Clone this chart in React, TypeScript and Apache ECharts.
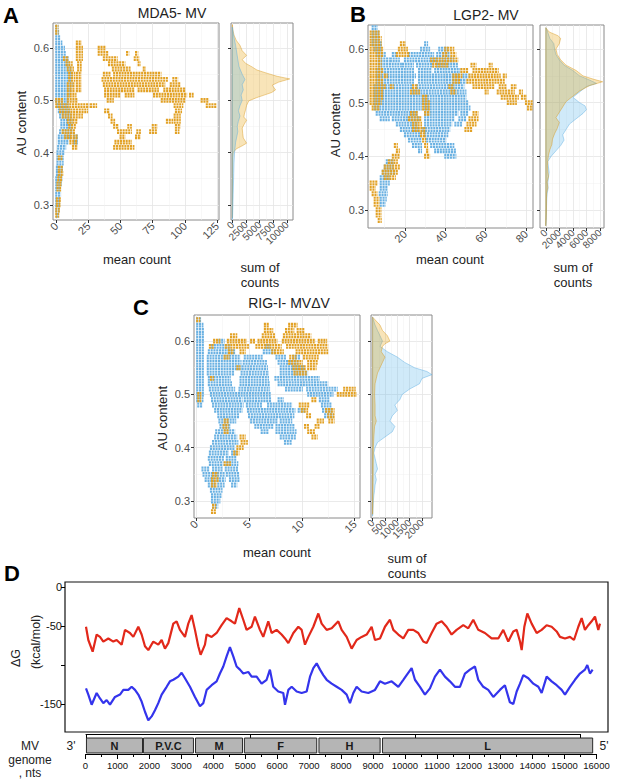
import React, { useEffect, useRef } from 'react';
import * as echarts from 'echarts';

const FONT = '"Liberation Sans", Arial, Helvetica, sans-serif';
const ORANGE = '#E2A124';
const BLUE = '#6AB1E2';
const ORANGE_FILL = 'rgba(230,159,0,0.28)';
const BLUE_FILL = 'rgba(86,180,233,0.28)';
const ORANGE_EDGE = 'rgba(215,150,20,0.55)';
const BLUE_EDGE = 'rgba(86,170,225,0.55)';

// ---------- tick labels ----------
const auTicks = [0.3, 0.4, 0.5, 0.6];
const auMinor = [0.35, 0.45, 0.55];
const aCountTicks = [0, 25, 50, 75, 100, 125];
const aCountMinor = [12.5, 37.5, 62.5, 87.5, 112.5];
const bCountTicks = [20, 40, 60, 80];
const bCountMinor = [10, 30, 50, 70];
const cCountTicks = [0, 5, 10, 15];
const cCountMinor = [2.5, 7.5, 12.5];
const aSumTicks = [0, 2500, 5000, 7500, 10000];
const aSumMinor = [1250, 3750, 6250, 8750];
const bSumTicks = [0, 2000, 4000, 6000, 8000];
const bSumMinor = [1000, 3000, 5000, 7000];
const cSumTicks = [0, 500, 1000, 1500, 2000];
const cSumMinor = [250, 750, 1250, 1750];
const dgTicks = [0, -50, -100, -150];
const dgLabels = [0, -50, -150];
const bracketTicks = [0, 5000, 10000, 15000];

// ---------- scatter rows: [AU content, mean count from, mean count to] ----------
const aBlueSeg = [
  [0.64, 0, 1], [0.63, 0, 1.5], [0.62, 0, 2.5], [0.61, 0, 4], [0.6, 0, 6], [0.59, 0, 7], [0.58, 0, 9],
  [0.57, 0, 10], [0.56, 0, 11], [0.55, 0, 12], [0.54, 0, 11], [0.53, 0, 12], [0.52, 0, 11], [0.51, 0, 10],
  [0.5, 0, 9], [0.49, 1, 9], [0.48, 2, 10], [0.47, 3, 11], [0.46, 4, 12], [0.45, 4, 12], [0.44, 3, 12],
  [0.43, 2, 11], [0.43, 14, 16], [0.42, 2, 9], [0.42, 14, 16], [0.41, 1.5, 7], [0.4, 1, 6], [0.39, 1, 5],
  [0.38, 1, 5], [0.37, 0.5, 4.5], [0.36, 0.5, 4], [0.35, 0, 4], [0.34, 0, 3.5], [0.33, 0, 3], [0.32, 0, 3],
  [0.31, 0, 2.5], [0.3, 0, 2.5], [0.29, 0, 2], [0.28, 0.5, 1.5],
];
const aOrangeSeg = [
  [0.64, 0, 1], [0.63, 0, 1], [0.61, 16, 19],
  [0.6, 16, 20], [0.6, 33, 38],
  [0.59, 16, 20], [0.59, 33, 40], [0.59, 55, 56], [0.59, 62, 63],
  [0.58, 6, 9], [0.58, 16, 20], [0.58, 37, 47], [0.58, 61, 64],
  [0.57, 8, 12], [0.57, 17, 19], [0.57, 41, 53], [0.57, 64, 65],
  [0.56, 9, 13], [0.56, 17, 19], [0.56, 44, 57], [0.56, 68, 69],
  [0.55, 10, 14], [0.55, 16, 19], [0.55, 37, 42], [0.55, 45, 81],
  [0.54, 10, 14], [0.54, 16, 19], [0.54, 36, 86], [0.54, 91, 94],
  [0.53, 9, 14], [0.53, 16, 19], [0.53, 37, 84], [0.53, 89, 96],
  [0.52, 9, 14], [0.52, 16, 19], [0.52, 38, 60], [0.52, 64, 79], [0.52, 84, 100],
  [0.51, 9, 15], [0.51, 38, 49], [0.51, 54, 60], [0.51, 76, 101], [0.51, 104, 106],
  [0.5, 0, 5], [0.5, 9, 16], [0.5, 40, 44], [0.5, 82, 100], [0.5, 113, 118],
  [0.49, 0, 25], [0.49, 27, 31], [0.49, 92, 98], [0.49, 117, 124],
  [0.48, 3, 24], [0.48, 38, 41], [0.48, 93, 97],
  [0.47, 5, 20], [0.47, 41, 43], [0.47, 92, 96],
  [0.46, 9, 16], [0.46, 43, 45], [0.46, 86, 90], [0.46, 92, 96],
  [0.45, 10, 15], [0.45, 45, 48], [0.45, 56, 58], [0.45, 75, 78], [0.45, 93, 96],
  [0.44, 5, 14], [0.44, 48, 58], [0.44, 63, 65], [0.44, 73, 78], [0.44, 93, 95],
  [0.43, 7, 16], [0.43, 50, 53], [0.43, 62, 65],
  [0.42, 11, 16], [0.42, 46, 58],
  [0.41, 13, 16], [0.41, 45, 60],
  [0.39, 2, 4], [0.37, 2, 4.5], [0.36, 2, 5], [0.35, 1.5, 4], [0.34, 1, 3.5], [0.33, 1, 3],
  [0.31, 0.5, 3], [0.3, 0.5, 2.5], [0.29, 0, 2], [0.28, 0, 1.5],
];
const bBlueSeg = [
  [0.64, 4, 6], [0.63, 4, 7], [0.62, 4, 7], [0.61, 4, 8], [0.61, 30, 31],
  [0.6, 5, 8], [0.6, 28, 32], [0.6, 37, 41],
  [0.59, 6, 10], [0.59, 14, 16], [0.59, 22, 34], [0.59, 36, 42],
  [0.58, 7, 12], [0.58, 13, 17], [0.58, 20, 35], [0.58, 36, 44],
  [0.57, 7, 18], [0.57, 19, 24], [0.57, 26, 34], [0.57, 36, 46],
  [0.56, 6, 24], [0.56, 27, 33], [0.56, 35, 47],
  [0.55, 6, 25], [0.55, 27, 47], [0.55, 49, 51],
  [0.54, 6, 24], [0.54, 27, 50],
  [0.53, 5, 24], [0.53, 26, 49],
  [0.52, 5, 22], [0.52, 24, 50],
  [0.51, 5, 50], [0.5, 5, 51],
  [0.49, 5, 28], [0.49, 30, 52],
  [0.48, 6, 16], [0.48, 17, 26], [0.48, 30, 46], [0.48, 48, 51],
  [0.47, 8, 12], [0.47, 14, 27], [0.47, 30, 44], [0.47, 47, 50],
  [0.46, 16, 26], [0.46, 30, 43], [0.46, 45, 48],
  [0.45, 18, 27], [0.45, 29, 42],
  [0.44, 20, 28], [0.44, 30, 41],
  [0.43, 22, 28], [0.43, 31, 40],
  [0.42, 24, 28], [0.42, 33, 44],
  [0.41, 27, 28], [0.41, 35, 45],
  [0.4, 40, 45],
  [0.39, 11, 14], [0.38, 10, 14], [0.37, 9, 15], [0.36, 8, 12], [0.35, 8, 12], [0.34, 8, 11],
  [0.33, 7.5, 11], [0.32, 8, 10.5], [0.31, 8, 10],
];
const bOrangeSeg = [
  [0.63, 3, 7], [0.62, 3, 8], [0.61, 3, 8], [0.61, 18, 20],
  [0.6, 3, 9], [0.6, 17, 21], [0.6, 40, 44],
  [0.59, 3, 9], [0.59, 16, 22], [0.59, 39, 41], [0.59, 43, 45],
  [0.58, 3, 8], [0.58, 33, 46],
  [0.57, 3, 8], [0.57, 34, 41], [0.57, 53, 55], [0.57, 62, 63],
  [0.56, 3, 9], [0.56, 48, 51], [0.56, 54, 66],
  [0.55, 3, 8], [0.55, 10, 11], [0.55, 44, 48], [0.55, 52, 67], [0.55, 69, 70],
  [0.54, 3, 9], [0.54, 44, 47], [0.54, 51, 69],
  [0.53, 3, 10], [0.53, 13, 14], [0.53, 24, 26], [0.53, 42, 44], [0.53, 54, 64], [0.53, 67, 70], [0.53, 73, 75],
  [0.52, 3, 9], [0.52, 23, 27], [0.52, 43, 45], [0.52, 60, 61], [0.52, 66, 74], [0.52, 77, 78],
  [0.51, 3, 9], [0.51, 29, 31], [0.51, 68, 76], [0.51, 78, 80],
  [0.5, 3, 8], [0.5, 29, 32], [0.5, 71, 75], [0.5, 80, 83],
  [0.49, 4, 7], [0.49, 29, 32], [0.49, 81, 83],
  [0.48, 23, 26], [0.48, 30, 32], [0.48, 54, 56],
  [0.47, 22, 28], [0.47, 52, 56],
  [0.46, 24, 28], [0.46, 51, 55],
  [0.45, 24, 30], [0.45, 50, 53],
  [0.44, 28, 30], [0.43, 29, 30],
  [0.42, 15, 16], [0.42, 30, 31],
  [0.41, 16, 17], [0.41, 31, 31.5],
  [0.4, 14, 17], [0.4, 30, 32],
  [0.39, 12, 16], [0.38, 10, 17], [0.37, 9, 16], [0.36, 10, 15],
  [0.35, 3, 6], [0.34, 3, 5], [0.33, 4, 6], [0.32, 5, 7], [0.31, 5, 7], [0.3, 6, 8], [0.29, 6, 8], [0.28, 7, 8],
];
const cBlueSeg = [
  [0.64, 0.1, 0.4], [0.63, 0.1, 0.6], [0.62, 0.1, 0.7], [0.61, 0.1, 0.7],
  [0.6, 0.1, 0.7], [0.6, 2.2, 2.6],
  [0.59, 0.1, 0.7], [0.59, 1.5, 3.2], [0.59, 6.6, 7],
  [0.58, 0.1, 0.7], [0.58, 1.2, 3.6], [0.58, 6.4, 7.4],
  [0.57, 0.1, 0.7], [0.57, 1.1, 4.1], [0.57, 4.6, 6.2], [0.57, 7.6, 8.4], [0.57, 9.2, 9.8],
  [0.56, 0.1, 0.7], [0.56, 1.1, 4.2], [0.56, 4.5, 6.6], [0.56, 7.8, 9.6],
  [0.55, 0.1, 0.7], [0.55, 1.1, 4.2], [0.55, 4.4, 6.7], [0.55, 8.0, 10.2],
  [0.54, 0.1, 0.7], [0.54, 1.1, 3.5], [0.54, 4.3, 6.8], [0.54, 8.0, 10.5],
  [0.53, 0.1, 0.7], [0.53, 1.2, 3.2], [0.53, 4.2, 6.8], [0.53, 7.5, 11.6],
  [0.52, 0.1, 0.7], [0.52, 1.2, 3.3], [0.52, 4.2, 6.9], [0.52, 7.8, 12.4],
  [0.51, 0.1, 0.7], [0.51, 1.3, 3.6], [0.51, 4.1, 6.9], [0.51, 8.5, 10], [0.51, 10.5, 13.3],
  [0.5, 0.1, 0.7], [0.5, 1.4, 4.1], [0.5, 4.3, 7.0], [0.5, 10.6, 12.9],
  [0.49, 0.1, 0.6], [0.49, 1.5, 4.3], [0.49, 4.6, 7.0], [0.49, 7.8, 8.2], [0.49, 11.7, 12.5],
  [0.48, 0.2, 0.5], [0.48, 1.6, 4.4], [0.48, 4.8, 6.2], [0.48, 6.8, 9.0], [0.48, 11.9, 12.7],
  [0.47, 1.8, 4.3], [0.47, 4.9, 9.3], [0.47, 9.7, 10.2], [0.47, 12.0, 12.8],
  [0.46, 2.1, 4.0], [0.46, 5.0, 9.2], [0.46, 12.2, 12.9],
  [0.45, 2.2, 3.7], [0.45, 5.2, 7.6], [0.45, 8.0, 9.0],
  [0.44, 2.3, 3.2], [0.44, 5.6, 7.2], [0.44, 7.6, 9.2],
  [0.43, 1.9, 3.6], [0.43, 6.2, 6.8], [0.43, 7.6, 9.4],
  [0.42, 1.8, 3.8], [0.42, 8.0, 9.4],
  [0.41, 1.6, 3.9], [0.41, 8.4, 9.0],
  [0.4, 1.4, 3.6],
  [0.39, 1.3, 3.0], [0.39, 3.4, 3.8],
  [0.38, 1.2, 2.6], [0.38, 2.9, 3.7],
  [0.37, 1.3, 2.5], [0.37, 2.9, 3.9],
  [0.36, 0.6, 1.2], [0.36, 1.6, 2.4], [0.36, 2.8, 3.9],
  [0.35, 0.7, 1.5], [0.35, 1.8, 2.6], [0.35, 2.9, 4.0],
  [0.34, 0.9, 1.6], [0.34, 2.0, 2.7], [0.34, 3.2, 4.0],
  [0.33, 1.2, 1.8], [0.33, 2.1, 2.6], [0.33, 3.4, 3.8],
  [0.32, 1.4, 2.4], [0.31, 1.5, 2.3], [0.3, 1.5, 2.2], [0.29, 1.6, 2.0],
];
const cOrangeSeg = [
  [0.64, 0.1, 0.3],
  [0.63, 6.5, 6.8], [0.63, 8.8, 9.5],
  [0.62, 6.5, 7.2], [0.62, 8.5, 9.2], [0.62, 9.6, 10.2],
  [0.61, 3.3, 3.8], [0.61, 6.3, 7.4], [0.61, 8.3, 10.8],
  [0.6, 1.7, 2.2], [0.6, 3.0, 4.7], [0.6, 5.2, 5.5], [0.6, 5.9, 7.6], [0.6, 8.2, 11.2], [0.6, 11.6, 12.3],
  [0.59, 1.3, 1.6], [0.59, 2.8, 4.9], [0.59, 5.7, 8.0], [0.59, 8.6, 12.4],
  [0.58, 3.1, 3.5], [0.58, 4.2, 4.6], [0.58, 7.2, 8.2], [0.58, 9.5, 12.4],
  [0.57, 2.7, 3.1], [0.57, 8.9, 9.4], [0.57, 10.2, 11.5],
  [0.56, 8.8, 10.0], [0.56, 10.6, 11.4],
  [0.55, 3.9, 4.1], [0.55, 9.2, 10.3], [0.55, 10.6, 11.3],
  [0.54, 9.3, 10.4], [0.53, 1.4, 1.6],
  [0.51, 14.0, 15.0],
  [0.5, 0.2, 0.4], [0.5, 13.4, 15.1],
  [0.49, 0.2, 0.4], [0.49, 11.0, 11.3],
  [0.48, 9.8, 10.6],
  [0.47, 10.0, 10.5], [0.47, 12.3, 13.0],
  [0.46, 10.5, 10.8], [0.46, 12.5, 13.0],
  [0.45, 2.7, 3.0], [0.45, 11.5, 12.0], [0.45, 12.6, 13.0],
  [0.44, 2.6, 3.0], [0.44, 10.3, 10.6], [0.44, 11.3, 11.6],
  [0.43, 2.7, 3.0], [0.43, 10.6, 11.2],
  [0.42, 4.2, 4.6], [0.42, 11.0, 11.4],
  [0.41, 4.3, 4.8], [0.4, 3.9, 4.4], [0.39, 3.6, 4.0], [0.37, 2.7, 3.2],
  [0.35, 1.6, 2.0], [0.34, 1.5, 2.1], [0.33, 1.5, 1.9], [0.29, 1.6, 1.8], [0.28, 1.5, 1.8],
];

// ---------- marginal densities: [sum of counts, AU content] ----------
const aOrangeDens = [
  [0, 0.645], [100, 0.635], [300, 0.625], [700, 0.615], [1400, 0.605], [1800, 0.595], [2600, 0.586],
  [1800, 0.578], [2400, 0.571], [3600, 0.564], [4500, 0.558], [6300, 0.552], [8200, 0.546], [10500, 0.541],
  [8500, 0.535], [7300, 0.529], [7900, 0.52], [7200, 0.515], [5800, 0.51], [4400, 0.505], [3000, 0.499],
  [2600, 0.49], [2400, 0.481], [2200, 0.474], [2100, 0.468], [2600, 0.462], [2200, 0.455], [1800, 0.447],
  [1900, 0.436], [2000, 0.428], [2600, 0.418], [1800, 0.413], [700, 0.407], [150, 0.4], [60, 0.39],
  [40, 0.36], [20, 0.32], [10, 0.29], [0, 0.275],
];
const aBlueDens = [
  [0, 0.64], [200, 0.625], [600, 0.605], [900, 0.585], [1200, 0.565], [1800, 0.55], [2300, 0.54],
  [1800, 0.53], [2000, 0.52], [1600, 0.51], [1800, 0.5], [1400, 0.49], [1100, 0.48], [1400, 0.47],
  [1100, 0.46], [900, 0.45], [1000, 0.44], [800, 0.43], [600, 0.42], [500, 0.41], [400, 0.4],
  [300, 0.38], [250, 0.36], [200, 0.34], [150, 0.32], [100, 0.3], [50, 0.28], [0, 0.272],
];
const bOrangeDens = [
  [0, 0.64], [500, 0.632], [1800, 0.625], [2200, 0.62], [2000, 0.61], [1500, 0.6], [1700, 0.59],
  [2200, 0.58], [3000, 0.57], [4500, 0.56], [5500, 0.55], [7000, 0.544], [8400, 0.539], [6500, 0.532],
  [5000, 0.522], [4000, 0.512], [3000, 0.502], [2500, 0.492], [2000, 0.482], [1500, 0.472], [2000, 0.463],
  [1700, 0.452], [1300, 0.442], [1000, 0.432], [900, 0.422], [600, 0.412], [400, 0.402], [300, 0.392],
  [250, 0.382], [300, 0.372], [400, 0.362], [200, 0.352], [300, 0.342], [150, 0.332], [100, 0.32],
  [100, 0.3], [50, 0.28], [0, 0.27],
];
const bBlueDens = [
  [0, 0.64], [200, 0.635], [600, 0.62], [1200, 0.61], [1300, 0.6], [1500, 0.59], [2000, 0.58],
  [2700, 0.57], [4000, 0.56], [5000, 0.55], [6500, 0.542], [7500, 0.536], [6000, 0.53], [5000, 0.52],
  [4000, 0.51], [5000, 0.5], [5800, 0.494], [6000, 0.487], [5500, 0.48], [4500, 0.47], [3500, 0.46],
  [3000, 0.45], [2500, 0.44], [2700, 0.43], [2200, 0.42], [1500, 0.41], [800, 0.4], [300, 0.39],
  [400, 0.38], [500, 0.37], [400, 0.36], [300, 0.35], [350, 0.34], [200, 0.33], [150, 0.32],
  [100, 0.3], [50, 0.28], [0, 0.27],
];
const cOrangeDens = [
  [0, 0.645], [100, 0.64], [300, 0.63], [400, 0.62], [600, 0.61], [700, 0.6], [500, 0.595],
  [400, 0.59], [350, 0.58], [500, 0.57], [400, 0.56], [300, 0.55], [200, 0.54], [150, 0.53],
  [100, 0.52], [80, 0.5], [100, 0.48], [100, 0.46], [150, 0.45], [80, 0.44], [50, 0.42],
  [30, 0.4], [20, 0.35], [10, 0.3], [0, 0.275],
];
const cBlueDens = [
  [0, 0.645], [100, 0.63], [200, 0.62], [300, 0.61], [400, 0.6], [300, 0.59], [600, 0.58],
  [1000, 0.57], [1300, 0.56], [1700, 0.55], [2200, 0.543], [2400, 0.537], [2000, 0.53], [1900, 0.52],
  [1500, 0.51], [1200, 0.5], [1100, 0.49], [900, 0.48], [1000, 0.47], [800, 0.46], [700, 0.45],
  [900, 0.44], [800, 0.43], [500, 0.42], [200, 0.41], [100, 0.4], [50, 0.39], [100, 0.38],
  [150, 0.37], [200, 0.36], [100, 0.35], [150, 0.34], [100, 0.33], [80, 0.32], [50, 0.31],
  [30, 0.3], [10, 0.28], [0, 0.272],
];

// ---------- panel D: ΔG along genome ----------
const redPos = [0, 71, 203, 324, 426, 527, 679, 831, 933, 1085, 1186, 1338, 1440, 1592, 1693, 1795, 1896, 2048, 2200, 2302, 2403, 2505, 2657, 2758, 2859, 3012, 3113, 3214, 3316, 3417, 3488, 3620, 3671, 3823, 3975, 4127, 4279, 4431, 4533, 4664, 4786, 4887, 5040, 5141, 5293, 5394, 5547, 5648, 5800, 5952, 6056, 6157, 6310, 6462, 6563, 6664, 6766, 6918, 7070, 7171, 7324, 7476, 7678, 7780, 7932, 8084, 8236, 8388, 8540, 8692, 8794, 8946, 9098, 9250, 9352, 9504, 9656, 9808, 9960, 10112, 10264, 10366, 10518, 10670, 10822, 10974, 11126, 11278, 11481, 11633, 11785, 11937, 12140, 12343, 12546, 12698, 12850, 13002, 13106, 13207, 13258, 13339, 13430, 13562, 13714, 13866, 14018, 14170, 14322, 14424, 14576, 14728, 14850, 14982, 15083, 15184, 15286, 15387, 15489, 15590, 15641];
const redDG = [-51, -68, -83, -61, -64, -70, -66, -70, -68, -74, -55, -59, -64, -51, -61, -76, -81, -70, -74, -68, -79, -72, -47, -44, -55, -64, -47, -36, -55, -76, -87, -74, -61, -64, -59, -49, -40, -44, -47, -27, -42, -55, -51, -38, -55, -64, -44, -59, -55, -61, -66, -72, -59, -51, -55, -74, -64, -51, -34, -47, -55, -53, -44, -55, -64, -79, -68, -64, -61, -51, -68, -66, -51, -42, -55, -61, -66, -55, -55, -59, -70, -72, -59, -47, -44, -51, -61, -55, -49, -53, -42, -55, -59, -66, -66, -55, -70, -57, -55, -70, -81, -51, -34, -47, -59, -55, -49, -51, -57, -64, -66, -64, -68, -51, -40, -55, -49, -44, -38, -55, -47];
const bluePos = [0, 71, 172, 324, 426, 527, 629, 730, 882, 1034, 1136, 1288, 1389, 1491, 1592, 1693, 1795, 1896, 1998, 2099, 2200, 2302, 2454, 2555, 2657, 2809, 2910, 3012, 3164, 3316, 3468, 3569, 3671, 3823, 3975, 4076, 4178, 4279, 4380, 4482, 4583, 4685, 4786, 4938, 5040, 5192, 5344, 5496, 5597, 5699, 5851, 6003, 6056, 6157, 6259, 6411, 6563, 6715, 6817, 6918, 7019, 7121, 7222, 7324, 7476, 7628, 7780, 7932, 8033, 8135, 8236, 8388, 8591, 8794, 8946, 9098, 9301, 9504, 9656, 9757, 9909, 10010, 10163, 10315, 10467, 10619, 10771, 10923, 11075, 11227, 11380, 11532, 11684, 11836, 11937, 12089, 12241, 12394, 12596, 12748, 12900, 13004, 13106, 13207, 13308, 13461, 13613, 13765, 13866, 14018, 14170, 14322, 14475, 14576, 14728, 14880, 15032, 15184, 15255, 15336, 15417];
const blueDG = [-130, -138, -151, -136, -143, -149, -145, -151, -141, -138, -132, -132, -128, -132, -138, -147, -160, -171, -166, -158, -149, -138, -128, -121, -119, -115, -110, -117, -128, -141, -153, -149, -132, -126, -121, -111, -102, -89, -77, -89, -102, -106, -111, -109, -115, -115, -124, -119, -106, -128, -134, -136, -151, -132, -128, -134, -136, -134, -115, -104, -98, -106, -113, -119, -124, -128, -132, -138, -149, -136, -128, -134, -136, -132, -121, -124, -121, -128, -119, -113, -104, -119, -128, -138, -130, -115, -106, -115, -121, -128, -128, -111, -106, -102, -119, -128, -132, -141, -132, -126, -148, -150, -134, -124, -113, -117, -124, -128, -136, -115, -121, -126, -132, -138, -128, -119, -111, -106, -100, -111, -106];

const geneNames = ['N', 'P.V.C', 'M', 'F', 'H', 'L'];
const geneStart = [30, 1815, 3445, 4975, 7310, 9300];
const geneEnd = [1785, 3380, 4915, 7240, 9225, 15880];

// ---------- helpers ----------
const fmt1 = (v: number) => v.toFixed(1);
const evenOnes = (a: number[]) => a.filter((_, i) => i % 2 === 0);
const oddOnes = (a: number[]) => a.filter((_, i) => i % 2 === 1);

function axisPair(gridIndex: number, min: number, max: number, major: number[], minor: number[], o: any) {
  // labels are split between the two axes so that neighbouring rotated labels are never auto-hidden
  const split = !!o.split;
  const labelBase = {
    rotate: o.rotate || 0, fontSize: o.fontSize || 10.5,
    color: '#4d4d4d', fontFamily: FONT, margin: o.margin || 4, formatter: o.formatter || ((v: number) => String(v)),
    showMinLabel: true, showMaxLabel: true, hideOverlap: false,
  };
  const primary: any = {
    type: 'value', gridIndex, min, max, position: o.position,
    axisLine: { show: false, onZero: false },
    axisTick: { show: true, customValues: major, length: 3, lineStyle: { color: '#333', width: 1 } },
    axisLabel: { ...labelBase, show: o.labels !== false, customValues: split ? evenOnes(major) : major },
    splitLine: { show: true, lineStyle: { color: '#e4e4e4', width: 0.8 } },
  };
  const minorAxis: any = {
    type: 'value', gridIndex, min, max, position: o.position,
    axisLine: { show: false, onZero: false },
    axisTick: { show: false, customValues: minor },
    axisLabel: split ? { ...labelBase, show: true, customValues: oddOnes(major) } : { show: false },
    splitLine: { show: true, lineStyle: { color: '#f1f1f1', width: 0.5 } },
  };
  return [primary, minorAxis];
}

function segSeries(xi: number, data: number[][], color: string) {
  return {
    type: 'custom', xAxisIndex: xi, yAxisIndex: xi, data, encode: { x: [1, 2], y: 0 }, z: 3,
    renderItem: (params: any, api: any) => {
      const y = api.value(0);
      const a = api.coord([api.value(1), y]);
      const b = api.coord([api.value(2), y]);
      const h = api.size([0, 0.01])[1];
      const off = h * 0.25;
      const xa = a[0] - 1;
      const xb = Math.max(b[0] + 1, a[0] + 1.5);
      const mk = (yy: number) => ({
        type: 'line', shape: { x1: xa, y1: yy, x2: xb, y2: yy },
        style: { stroke: color, lineWidth: 2.2, lineDash: [2.1, 0.7] },
      });
      return { type: 'group', children: [mk(a[1] - off), mk(a[1] + off)] };
    },
  };
}

function densSeries(xi: number, pts: number[][], fill: string, stroke: string) {
  return {
    type: 'custom', xAxisIndex: xi, yAxisIndex: xi, data: pts, encode: { x: 0, y: 1 }, z: 3,
    renderItem: (params: any, api: any) => {
      if (params.dataIndex !== 0) return null;
      const points: number[][] = [api.coord([0, pts[0][1]])];
      pts.forEach((p) => points.push(api.coord(p)));
      points.push(api.coord([0, pts[pts.length - 1][1]]));
      return { type: 'polygon', shape: { points }, style: { fill, stroke, lineWidth: 0.8 } };
    },
  };
}

function txt(text: string, x: number, y: number, o: any = {}) {
  return {
    type: 'text', x, y, rotation: o.rot || 0, z: 100,
    style: {
      text, fill: o.fill || '#222', fontSize: o.size || 13, fontFamily: FONT, fontWeight: o.weight || 'normal',
      align: o.align || 'center', verticalAlign: o.va || 'middle', lineHeight: o.lh,
    },
  };
}

export default function App() {
  const ref = useRef<HTMLDivElement>(null);
  useEffect(() => {
    document.body.style.margin = '0';
    if (!ref.current) return;
    const chart = echarts.init(ref.current, undefined, { renderer: 'svg' });

    const panelBorder = { show: true, borderColor: '#8a8a8a', borderWidth: 1, backgroundColor: 'transparent' };
    const grids: any[] = [
      { left: 53, top: 23, width: 166, height: 197, ...panelBorder },
      { left: 231, top: 23, width: 62, height: 197, ...panelBorder },
      { left: 368, top: 25, width: 165, height: 203, ...panelBorder },
      { left: 540, top: 25, width: 64, height: 203, ...panelBorder },
      { left: 194, top: 315, width: 166, height: 203, ...panelBorder },
      { left: 371, top: 315, width: 61, height: 203, ...panelBorder },
      { left: 65, top: 582, width: 543, height: 150, show: true, borderColor: '#111', borderWidth: 1.2 },
      { left: 86, top: 690, width: 494, height: 44 },
      { left: 85.5, top: 737, width: 511, height: 17 },
    ];

    const xAxes: any[] = [];
    const yAxes: any[] = [];
    const yr = [[0.271, 0.648], [0.266, 0.645], [0.268, 0.649]];
    const countCfg = [
      { r: [-2.5, 126.5], t: aCountTicks, m: aCountMinor },
      { r: [1.7, 83.5], t: bCountTicks, m: bCountMinor },
      { r: [-0.2, 15.5], t: cCountTicks, m: cCountMinor },
    ];
    const sumCfg = [
      { r: [-250, 11100], t: aSumTicks, m: aSumMinor },
      { r: [-850, 8600], t: bSumTicks, m: bSumMinor },
      { r: [-65, 2405], t: cSumTicks, m: cSumMinor },
    ];
    for (let p = 0; p < 3; p++) {
      const gs = p * 2;
      const gm = p * 2 + 1;
      xAxes.push(...axisPair(gs, countCfg[p].r[0], countCfg[p].r[1], countCfg[p].t, countCfg[p].m, { position: 'bottom', rotate: 45, fontSize: 11, split: true }));
      yAxes.push(...axisPair(gs, yr[p][0], yr[p][1], auTicks, auMinor, { position: 'left', formatter: fmt1, fontSize: 11 }));
      xAxes.push(...axisPair(gm, sumCfg[p].r[0], sumCfg[p].r[1], sumCfg[p].t, sumCfg[p].m, { position: 'bottom', rotate: 45, fontSize: 10, margin: 3, split: true }));
      yAxes.push(...axisPair(gm, yr[p][0], yr[p][1], auTicks, auMinor, { position: 'left', labels: false }));
    }
    // index 12: D line plot
    xAxes.push({ type: 'value', gridIndex: 6, min: -639, max: 15885, show: false, axisLine: { onZero: false } });
    yAxes.push({
      type: 'value', gridIndex: 6, min: -186, max: 6.4, position: 'left',
      axisLine: { show: false, onZero: false },
      axisTick: { show: true, customValues: dgTicks, length: 4, lineStyle: { color: '#000', width: 1 } },
      axisLabel: { customValues: dgLabels, fontSize: 11, color: '#111', fontFamily: FONT, margin: 3, showMinLabel: true, showMaxLabel: true },
      splitLine: { show: false },
    });
    // index 13: offset x axis of line plot
    xAxes.push({
      type: 'value', gridIndex: 7, min: 0, max: 15000, position: 'bottom',
      axisLine: { show: true, onZero: false, lineStyle: { color: '#000', width: 1 } },
      axisTick: { show: true, customValues: bracketTicks, length: 4, lineStyle: { color: '#000', width: 1 } },
      axisLabel: { show: false }, splitLine: { show: false },
    });
    yAxes.push({ type: 'value', gridIndex: 7, min: 0, max: 1, show: false, axisLine: { onZero: false } });
    // index 14: genome axis
    xAxes.push({
      type: 'value', gridIndex: 8, min: 0, max: 16000, interval: 1000, position: 'bottom',
      axisLine: { show: true, onZero: false, lineStyle: { color: '#000', width: 1 } },
      axisTick: { show: true, length: 5, lineStyle: { color: '#000', width: 1 } },
      minorTick: { show: true, splitNumber: 2, length: 3, lineStyle: { color: '#000', width: 1 } },
      axisLabel: { fontSize: 9.5, color: '#111', fontFamily: FONT, margin: 6, formatter: (v: number) => String(v), showMinLabel: true, showMaxLabel: true },
      splitLine: { show: false },
    });
    yAxes.push({ type: 'value', gridIndex: 8, min: 0, max: 1, show: false, axisLine: { onZero: false } });

    const series: any[] = [
      segSeries(0, aBlueSeg, BLUE),
      segSeries(0, aOrangeSeg, ORANGE),
      densSeries(2, aOrangeDens, ORANGE_FILL, ORANGE_EDGE),
      densSeries(2, aBlueDens, BLUE_FILL, BLUE_EDGE),
      segSeries(4, bBlueSeg, BLUE),
      segSeries(4, bOrangeSeg, ORANGE),
      densSeries(6, bBlueDens, BLUE_FILL, BLUE_EDGE),
      densSeries(6, bOrangeDens, ORANGE_FILL, ORANGE_EDGE),
      segSeries(8, cBlueSeg, BLUE),
      segSeries(8, cOrangeSeg, ORANGE),
      densSeries(10, cBlueDens, BLUE_FILL, BLUE_EDGE),
      densSeries(10, cOrangeDens, ORANGE_FILL, ORANGE_EDGE),
      {
        type: 'line', xAxisIndex: 12, yAxisIndex: 12, showSymbol: false, symbol: 'none',
        data: redPos.map((x, i) => [x, redDG[i]]), lineStyle: { color: '#E2281A', width: 2.2 },
      },
      {
        type: 'line', xAxisIndex: 12, yAxisIndex: 12, showSymbol: false, symbol: 'none',
        data: bluePos.map((x, i) => [x, blueDG[i]]), lineStyle: { color: '#3434EC', width: 2.2 },
      },
      {
        type: 'custom', xAxisIndex: 14, yAxisIndex: 14, encode: { x: [0, 1] },
        data: geneNames.map((n, i) => [geneStart[i], geneEnd[i], i]),
        renderItem: (params: any, api: any) => {
          const a = api.coord([api.value(0), 0.94]);
          const b = api.coord([api.value(1), 0.06]);
          const name = geneNames[api.value(2)];
          return {
            type: 'group',
            children: [
              { type: 'rect', shape: { x: a[0], y: a[1], width: b[0] - a[0], height: b[1] - a[1] }, style: { fill: '#B5B5B5', stroke: '#2a2a2a', lineWidth: 1 } },
              { type: 'text', style: { text: name, x: (a[0] + b[0]) / 2, y: (a[1] + b[1]) / 2 + 0.5, align: 'center', verticalAlign: 'middle', fontSize: 11, fontWeight: 'bold', fontFamily: FONT, fill: '#1a1a1a' } },
            ],
          };
        },
      },
    ];

    const R = Math.PI / 2;
    const graphic: any[] = [
      txt('A', 3, 4, { size: 22, weight: 'bold', align: 'left', va: 'top', fill: '#000' }),
      txt('MDA5- MV', 172, 13, { size: 14 }),
      txt('B', 350, 3, { size: 22, weight: 'bold', align: 'left', va: 'top', fill: '#000' }),
      txt('LGP2- MV', 486, 15, { size: 14 }),
      txt('C', 133, 296, { size: 22, weight: 'bold', align: 'left', va: 'top', fill: '#000' }),
      txt('RIG-I- MVΔV', 289, 303, { size: 14 }),
      txt('D', 4, 562, { size: 22, weight: 'bold', align: 'left', va: 'top', fill: '#000' }),
      txt('AU content', 21, 123, { rot: R }),
      txt('AU content', 335, 125, { rot: R }),
      txt('AU content', 162, 418, { rot: R }),
      txt('mean count', 137, 259),
      txt('mean count', 450, 259),
      txt('mean count', 277, 552),
      txt('sum of\ncounts', 260, 275, { lh: 15 }),
      txt('sum of\ncounts', 573, 275, { lh: 15 }),
      txt('sum of\ncounts', 407, 566, { lh: 15 }),
      txt('ΔG', 16, 658, { rot: R, size: 12.5 }),
      txt('(kcal/mol)', 36, 642, { rot: R, size: 12.5 }),
      txt('MV', 30, 746, { size: 12 }),
      txt('genome', 30, 760, { size: 12 }),
      txt(', nts', 30, 773, { size: 12 }),
      txt("3'", 71, 746, { size: 12 }),
      txt("5'", 604, 746, { size: 12 }),
    ];

    chart.setOption({
      animation: false,
      backgroundColor: '#ffffff',
      textStyle: { fontFamily: FONT },
      grid: grids,
      xAxis: xAxes,
      yAxis: yAxes,
      series,
      graphic,
    });
    return () => chart.dispose();
  }, []);
  return <div ref={ref} style={{ width: 617, height: 781 }} />;
}
